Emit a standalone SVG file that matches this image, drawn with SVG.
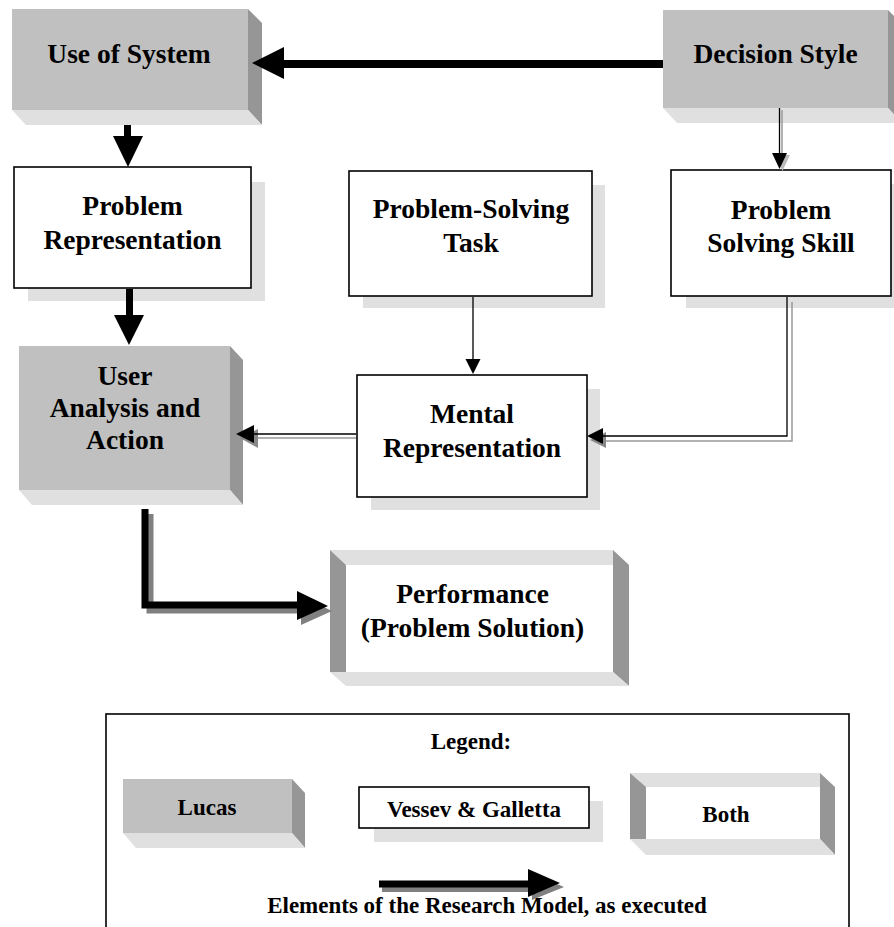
<svg xmlns="http://www.w3.org/2000/svg" width="894" height="927" viewBox="0 0 894 927">
<style>
text{font-family:"Liberation Serif","Times New Roman",serif;font-weight:bold;fill:#000;text-anchor:middle}
.big{font-size:27.5px}
.sm{font-size:23px}
.xs{font-size:23px}
.face{fill:#c0c0c0}
.side{fill:#969696}
.bot{fill:#e0e0e0}
.wbox{fill:#fff;stroke:#000;stroke-width:1.6}
.shadow{fill:#e0e0e0}
.blk{stroke:#000;fill:none}
.gry{stroke:#999;fill:none}
</style>
<rect width="894" height="927" fill="#fff"/>

<g id="node-use-of-system">
  <rect x="12" y="9" width="236" height="101" class="face"/>
  <polygon points="248,9 262,23 262,125 248,110" class="side"/>
  <polygon points="12,110 248,110 262,125 26,125" class="bot"/>
  <text x="129" y="63" class="big">Use of System</text>
</g>

<g id="node-decision-style">
  <rect x="663" y="10" width="225" height="98" class="face"/>
  <polygon points="888,10 902,24 902,123 888,108" class="side"/>
  <polygon points="663,108 888,108 902,123 677,123" class="bot"/>
  <text x="775.5" y="63" class="big">Decision Style</text>
</g>

<g id="node-problem-representation">
  <rect x="28" y="182" width="237" height="119" class="shadow"/>
  <rect x="14" y="167" width="237" height="121" class="wbox"/>
  <text x="132.5" y="215" class="big">Problem</text>
  <text x="132.5" y="249" class="big">Representation</text>
</g>

<g id="node-problem-solving-task">
  <rect x="363" y="185" width="242" height="123" class="shadow"/>
  <rect x="349" y="171" width="243" height="125" class="wbox"/>
  <text x="471" y="218" class="big">Problem-Solving</text>
  <text x="471" y="252" class="big">Task</text>
</g>

<g id="node-problem-solving-skill">
  <rect x="686" y="184" width="220" height="124" class="shadow"/>
  <rect x="671" y="170" width="220" height="126" class="wbox"/>
  <text x="781" y="219" class="big">Problem</text>
  <text x="781" y="252" class="big">Solving Skill</text>
</g>

<g id="node-user-analysis">
  <rect x="19" y="346" width="211" height="144" class="face"/>
  <polygon points="230,346 243,360 243,505 230,490" class="side"/>
  <polygon points="19,490 230,490 243,505 32,505" class="bot"/>
  <text x="125" y="385" class="big">User</text>
  <text x="125" y="417" class="big">Analysis and</text>
  <text x="125" y="449" class="big">Action</text>
</g>

<g id="node-mental-representation">
  <rect x="371" y="389" width="229" height="121" class="shadow"/>
  <rect x="357" y="375" width="230" height="122" class="wbox"/>
  <text x="472" y="423" class="big">Mental</text>
  <text x="472" y="457" class="big">Representation</text>
</g>

<g id="node-performance">
  <rect x="346" y="565" width="267" height="107" fill="#fff"/>
  <polygon points="330,550 613,550 613,565 346,565" class="bot"/>
  <polygon points="330,550 346,565 346,672 330,672" class="side"/>
  <polygon points="613,550 629,565 629,686 613,672" class="side"/>
  <polygon points="330,672 613,672 629,686 346,686" class="bot"/>
  <text x="472.5" y="603" class="big">Performance</text>
  <text x="472.5" y="637" class="big">(Problem Solution)</text>
</g>

<g id="connectors">
  <!-- Decision Style -> Use of System -->
  <line x1="663" y1="64" x2="280" y2="64" class="blk" stroke-width="8"/>
  <polygon points="252,63 284,47 284,79" fill="#000"/>
  <!-- Use of System -> Problem Representation -->
  <rect x="124" y="125" width="7" height="13" fill="#000"/>
  <polygon points="113,136 143,136 128,167" fill="#000"/>
  <!-- Problem Representation -> User Analysis -->
  <rect x="126" y="289" width="7" height="28" fill="#000"/>
  <polygon points="114,315 144,315 129,345" fill="#000"/>
  <!-- Decision Style -> Problem Solving Skill -->
  <line x1="782" y1="110" x2="782" y2="168" class="gry" stroke-width="1.5"/>
  <polygon points="775,155 790,155 782.5,171" fill="#bbb"/>
  <line x1="779.5" y1="108" x2="779.5" y2="155" class="blk" stroke-width="1.3"/>
  <polygon points="772,153 787,153 779.5,169" fill="#000"/>
  <!-- Problem-Solving Task -> Mental Representation -->
  <line x1="473" y1="297" x2="473" y2="360" class="blk" stroke-width="1.3"/>
  <polygon points="465.5,359 480.5,359 473,374" fill="#000"/>
  <!-- Problem Solving Skill -> Mental Representation -->
  <polyline points="792,302 792,441 604,441" class="gry" stroke-width="1.5"/>
  <polygon points="590,440 606,432 606,448" fill="#888"/>
  <polyline points="787,297 787,436 600,436" class="blk" stroke-width="1.3"/>
  <polygon points="587,436 603,428 603,444" fill="#000"/>
  <!-- Mental Representation -> User Analysis -->
  <line x1="356" y1="438" x2="256" y2="438" class="gry" stroke-width="1.5"/>
  <polygon points="240,438 258,429 258,448" fill="#888"/>
  <line x1="356" y1="434" x2="250" y2="434" class="blk" stroke-width="1.3"/>
  <polygon points="236,434 254,425 254,443" fill="#000"/>
  <!-- User Analysis -> Performance -->
  <path d="M150,514 V610 H302" stroke="#808080" stroke-width="7" fill="none"/>
  <polygon points="301,596 301,625 332,611" fill="#808080"/>
  <path d="M145,509 V605 H300" class="blk" stroke-width="7"/>
  <polygon points="297,591 297,620 328,606" fill="#000"/>
</g>

<g id="legend">
  <rect x="106" y="714" width="743" height="230" fill="none" stroke="#000" stroke-width="1.6"/>
  <text x="471" y="749" class="sm">Legend:</text>
  <g id="legend-lucas">
    <rect x="123" y="779" width="169" height="54" class="face"/>
    <polygon points="292,779 305,793 305,848 292,833" class="side"/>
    <polygon points="123,833 292,833 305,848 136,848" class="bot"/>
    <text x="207" y="815" class="sm">Lucas</text>
  </g>
  <g id="legend-vessey">
    <rect x="374" y="801" width="229" height="41" class="shadow"/>
    <rect x="359" y="787" width="230" height="41" class="wbox"/>
    <text x="474" y="817" class="sm">Vessev &amp; Galletta</text>
  </g>
  <g id="legend-both">
    <rect x="646" y="787" width="174" height="52" fill="#fff"/>
    <polygon points="630,773 820,773 820,787 646,787" class="bot"/>
    <polygon points="630,773 646,787 646,839 630,839" class="side"/>
    <polygon points="820,773 835,787 835,855 820,839" class="side"/>
    <polygon points="630,839 820,839 835,855 646,855" class="bot"/>
    <text x="726" y="822" class="sm">Both</text>
  </g>
  <g id="legend-arrow">
    <line x1="382" y1="889" x2="532" y2="889" stroke="#808080" stroke-width="6"/>
    <polygon points="532,873 532,900 564,887" fill="#808080"/>
    <line x1="379" y1="884" x2="530" y2="884" stroke="#000" stroke-width="7"/>
    <polygon points="528,869 528,897 560,883" fill="#000"/>
  </g>
  <text x="487" y="913" class="xs">Elements of the Research Model, as executed</text>
</g>
</svg>
